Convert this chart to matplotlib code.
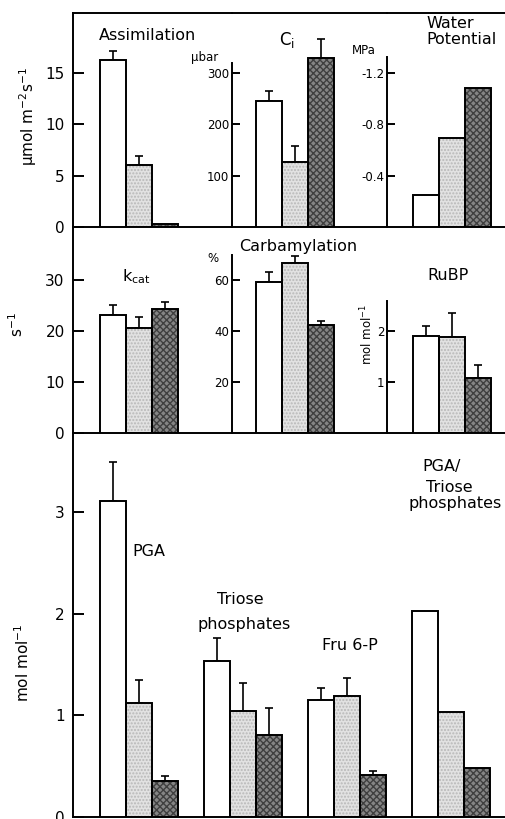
import matplotlib
matplotlib.use("Agg")
import matplotlib.pyplot as plt

plt.rcParams['font.family'] = ['DejaVu Sans']
plt.rcParams['mathtext.fontset'] = 'dejavusans'

# ---------------- data (three treatments per panel) ----------------
treatments = ['Control', 'Moderate stress', 'Severe stress']

assim = [16.3, 6.0, 0.3]
assim_err = [0.8, 0.9, 0.0]
ci = [246, 127, 329]
ci_err = [19, 31, 38]
water_pot = [-0.25, -0.69, -1.085]

kcat = [23.1, 20.6, 24.3]
kcat_err = [2.0, 2.1, 1.4]
carbam = [59.2, 66.7, 42.4]
carbam_err = [3.8, 2.7, 1.5]
rubp = [1.90, 1.88, 1.08]
rubp_err = [0.20, 0.47, 0.25]

pga = [3.11, 1.12, 0.35]
pga_err = [0.38, 0.23, 0.05]
triose = [1.53, 1.04, 0.81]
triose_err = [0.23, 0.28, 0.26]
fru6p = [1.15, 1.19, 0.41]
fru6p_err = [0.12, 0.18, 0.04]
pga_triose = [2.03, 1.03, 0.48]

metabolites = ['PGA', 'Triose\nphosphates', 'Fru 6-P', 'PGA/\nTriose\nphosphates']

# ---------------- styling ----------------
W, H = 506, 819
fig = plt.figure(figsize=(W / 100, H / 100), dpi=100)
fig.patch.set_facecolor('white')

face = ['white', '#e2e2e2', '#858585']
hatchc = ['white', '#b8b8b8', '#3f3f3f']
hatches = [None, '.....', 'xxxxx']
LW = 1.4
BW = 26.0  # bar width in px


def add_ax(x0, x1, ytop, ybot, bar_start):
    ax = fig.add_axes([x0 / W, 1 - ybot / H, (x1 - x0) / W, (ybot - ytop) / H])
    ax.set_xlim(-0.5 - (bar_start - x0) / BW, -0.5 + (x1 - bar_start) / BW)
    ax.patch.set_alpha(0)
    for s in ax.spines.values():
        s.set_linewidth(LW)
    ax.spines['right'].set_visible(False)
    ax.set_xticks([])
    return ax


def draw_bars(ax, xs, vals, errs=None):
    for i, (x, v) in enumerate(zip(xs, vals)):
        if hatches[i]:
            ax.bar(x, v, width=1.0, color=face[i], edgecolor=hatchc[i],
                   hatch=hatches[i], linewidth=0, zorder=2)
        ax.bar(x, v, width=1.0, facecolor='none' if hatches[i] else face[i],
               edgecolor='black', linewidth=LW, zorder=3)
    if errs is not None:
        for x, v, e in zip(xs, vals, errs):
            if e > 0:
                ax.errorbar([x], [v], yerr=[[0], [e]], fmt='none', ecolor='black',
                            elinewidth=1.2, capsize=2.9, capthick=1.2, zorder=1)


def main_ticks(ax, ticks):
    ax.set_yticks(ticks)
    ax.tick_params(axis='y', direction='in', length=8, width=LW,
                   labelsize=11, pad=6)


def inner_axis(ax, ticks, labels, top):
    ax.spines['top'].set_visible(False)
    ax.spines['left'].set_bounds(0, top)
    ax.set_yticks(ticks)
    ax.set_yticklabels(labels)
    ax.tick_params(axis='y', direction='in', length=6, width=LW,
                   labelsize=8.5, pad=2)


xs3 = [0, 1, 2]

# ---------------- top row ----------------
r1t, r1b = 13, 227
a1 = add_ax(73, 232, r1t, r1b, 100)
a1.set_ylim(0, (r1b - r1t) / 10.27)
draw_bars(a1, xs3, assim, assim_err)
main_ticks(a1, [0, 5, 10, 15])

a2 = add_ax(232, 387, r1t, r1b, 256)
a2.set_ylim(0, (r1b - r1t) / 0.5133)
draw_bars(a2, xs3, ci, ci_err)
inner_axis(a2, [100, 200, 300], ['100', '200', '300'], 320)
a2.spines['top'].set_visible(True)

a3 = add_ax(387, 512, r1t, r1b, 413)
a3.set_ylim(0, -(r1b - r1t) / 128.3)
draw_bars(a3, xs3, water_pot)
inner_axis(a3, [-0.4, -0.8, -1.2], ['-0.4', '-0.8', '-1.2'], -1.325)
a3.spines['top'].set_visible(True)

# ---------------- middle row ----------------
r2t, r2b = 227, 433
b1 = add_ax(73, 232, r2t, r2b, 100)
b1.set_ylim(0, (r2b - r2t) / 5.1)
b1.spines['top'].set_visible(False)
draw_bars(b1, xs3, kcat, kcat_err)
main_ticks(b1, [0, 10, 20, 30])

b2 = add_ax(232, 387, r2t, r2b, 256)
b2.set_ylim(0, (r2b - r2t) / 2.55)
draw_bars(b2, xs3, carbam, carbam_err)
inner_axis(b2, [20, 40, 60], ['20', '40', '60'], 69.8)

b3 = add_ax(387, 512, r2t, r2b, 413)
b3.set_ylim(0, (r2b - r2t) / 51.0)
draw_bars(b3, xs3, rubp, rubp_err)
inner_axis(b3, [1, 2], ['1', '2'], 2.59)

# ---------------- bottom row ----------------
r3t, r3b = 433, 817
c1 = add_ax(73, 512, r3t, r3b, 100)
c1.set_ylim(0, (r3b - r3t) / 101.7)
c1.spines['top'].set_visible(False)
main_ticks(c1, [0, 1, 2, 3])
groups = [(pga, pga_err), (triose, triose_err), (fru6p, fru6p_err), (pga_triose, None)]
for g, (vals, errs) in enumerate(groups):
    draw_bars(c1, [g * 4 + i for i in range(3)], vals, errs)

# ---------------- text ----------------
def T(x, y, s, size=11.5, **kw):
    kw.setdefault('ha', 'center')
    kw.setdefault('va', 'center')
    fig.text(x / W, 1 - y / H, s, fontsize=size, **kw)

T(148, 36, 'Assimilation')
T(287, 40, r'C$_\mathregular{i}$', size=12)
T(450, 24, 'Water')
T(462, 40, 'Potential')
T(205, 57, 'µbar', size=8.5)
T(364, 50, 'MPa', size=8.5)
T(28, 117, r'µmol m$^{-2}$s$^{-1}$', size=11, rotation=90)

T(136, 277, r'k$_\mathregular{cat}$')
T(298, 246, 'Carbamylation')
T(448, 276, 'RuBP')
T(213, 258, '%', size=8.5)
T(17, 325, r's$^{-1}$', size=11, rotation=90)
T(367, 334, r'mol mol$^{-1}$', size=8.5, rotation=90)

T(132, 551, metabolites[0], ha='left')
T(240, 600, 'Triose')
T(244, 625, 'phosphates')
T(350, 646, metabolites[2])
T(442, 467, 'PGA/')
T(449, 488, 'Triose')
T(455, 503, 'phosphates')
T(23, 663, r'mol mol$^{-1}$', size=11, rotation=90)

fig.savefig('out.png', dpi=100, facecolor='white')
